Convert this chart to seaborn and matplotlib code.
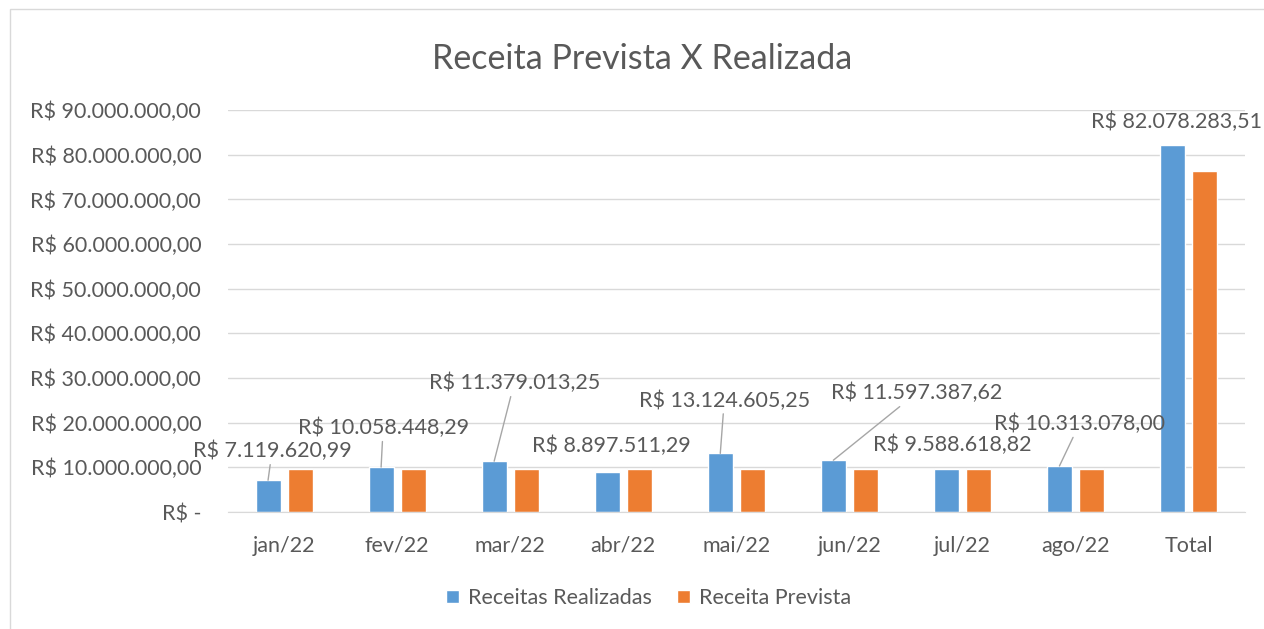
import matplotlib
matplotlib.use("Agg")
import matplotlib.pyplot as plt
import seaborn as sns
import pandas as pd
from matplotlib.patches import Rectangle
from matplotlib.ticker import FuncFormatter, MultipleLocator

meses = ["jan/22", "fev/22", "mar/22", "abr/22", "mai/22", "jun/22", "jul/22", "ago/22", "Total"]
realizadas = [7119620.99, 10058448.29, 11379013.25, 8897511.29, 13124605.25,
              11597387.62, 9588618.82, 10313078.00, 82078283.51]
prevista = [9550000, 9550000, 9550000, 9550000, 9550000, 9550000, 9550000, 9550000, 76400000]
series = ["Receitas Realizadas", "Receita Prevista"]
cores = ["#5B9BD5", "#ED7D31"]
# data label position relative to the top of its blue bar (pixels), and whether a leader line shows
label_offsets = [(4, 29), (2, 39), (20, 78), (4, 26), (4, 53), (83, 67), (6, 24), (20, 42), (4, 24)]
leader = [True, True, True, False, True, True, False, True, False]

df = pd.DataFrame({
    "mes": meses * 2,
    "valor": realizadas + prevista,
    "serie": [series[0]] * len(meses) + [series[1]] * len(meses),
})


def brl(v):
    s = f"{v:,.2f}"
    return s.replace(",", "X").replace(".", ",").replace("X", ".")


sns.set_style("white")
plt.rcParams["font.family"] = ["Lato", "DejaVu Sans"]
cinza = "#595959"

fig = plt.figure(figsize=(12.64, 6.29), dpi=100)
fig.patches.append(Rectangle((0.008, -0.01), 1.0, 0.995, transform=fig.transFigure,
                             fill=False, edgecolor="#D9D9D9", linewidth=1))
ax = fig.add_axes([0.180, 0.186, 0.805, 0.639])

sns.barplot(data=df, x="mes", y="valor", hue="serie", palette=cores, saturation=1,
            width=0.566, gap=0.22, ax=ax, legend=True)

ax.set_ylim(0, 90000000)
ax.yaxis.set_major_locator(MultipleLocator(10000000))
ax.yaxis.set_major_formatter(FuncFormatter(lambda v, p: "R$ -" if v == 0 else f"R$ {brl(v)}"))
ax.grid(axis="y", color="#D9D9D9", linewidth=1)
ax.set_axisbelow(True)
for s in ["top", "right", "left"]:
    ax.spines[s].set_visible(False)
ax.spines["bottom"].set_color("#D9D9D9")
ax.tick_params(axis="both", length=0, labelsize=15.5, colors=cinza)
ax.tick_params(axis="y", pad=19)
ax.tick_params(axis="x", pad=17)
ax.set_xlabel("")
ax.set_ylabel("")
ax.set_xlim(-0.5, len(meses) - 0.5)

blue = ax.containers[0]
for rect, v, off, lin in zip(blue.patches, realizadas, label_offsets, leader):
    xc = rect.get_x() + rect.get_width() / 2
    arrow = dict(arrowstyle="-", color="#A6A6A6", lw=1, shrinkA=0, shrinkB=0) if lin else None
    ax.annotate(f"R$ {brl(v)}", xy=(xc, v), xytext=off, textcoords="offset pixels",
                ha="center", va="center", fontsize=15.5, color=cinza,
                bbox=dict(boxstyle="square,pad=0.15", fc="none", ec="none"),
                arrowprops=arrow)

fig.text(0.508, 0.906, "Receita Prevista X Realizada", ha="center", va="center",
         fontsize=24.5, color=cinza)

h, l = ax.get_legend_handles_labels()
ax.legend_.remove()
fig.legend(h, l, loc="center", bbox_to_anchor=(0.513, 0.049), ncol=2, frameon=False,
           fontsize=15.5, labelcolor=cinza, handlelength=0.6, handleheight=0.6,
           handletextpad=0.4, columnspacing=1.2)

fig.savefig("out.png", dpi=100)
